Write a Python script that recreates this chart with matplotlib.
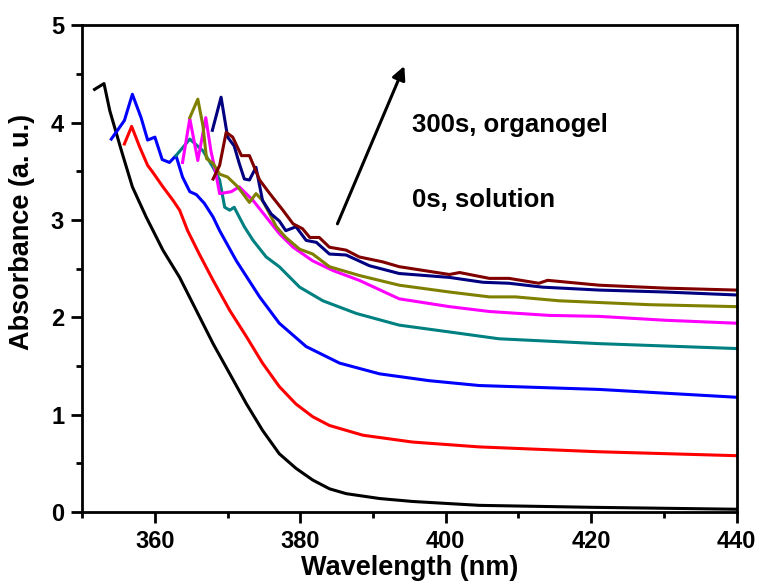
import matplotlib.pyplot as plt

plt.rcParams['font.family'] = ['Liberation Sans', 'DejaVu Sans']
plt.rcParams['font.weight'] = 'bold'

# wavelength (nm) / absorbance, one pair of lists per curve
wl_black = [351.7, 353.0, 353.8, 355.4, 356.9, 358.8, 361.1, 363.4, 365.7, 368.0,
            370.3, 372.6, 374.8, 377.1, 379.4, 381.7, 384.0, 386.3, 390.9, 395.4,
            404.6, 420.0, 440.0]
ab_black = [4.34, 4.40, 4.12, 3.71, 3.34, 3.03, 2.69, 2.41, 2.07, 1.73,
            1.42, 1.11, 0.84, 0.60, 0.45, 0.33, 0.24, 0.19, 0.14, 0.11,
            0.07, 0.05, 0.03]

wl_red = [355.8, 356.8, 357.9, 359.0, 359.7, 361.1, 362.5, 363.4, 364.5, 366.1,
          368.0, 370.3, 372.6, 374.8, 377.1, 379.4, 381.7, 384.0, 388.6, 395.4,
          404.6, 421.1, 439.9]
ab_red = [3.78, 3.96, 3.75, 3.56, 3.49, 3.34, 3.20, 3.10, 2.89, 2.65,
          2.38, 2.07, 1.80, 1.53, 1.29, 1.11, 0.98, 0.89, 0.79, 0.72,
          0.67, 0.62, 0.58]

wl_blue = [354.0, 355.8, 356.9, 358.1, 359.0, 360.0, 361.0, 362.0, 362.9, 363.8,
           364.8, 365.7, 366.8, 368.0, 368.9, 371.2, 374.4, 377.1, 380.8, 385.4,
           390.9, 397.7, 404.6, 421.1, 439.9]
ab_blue = [3.83, 4.02, 4.29, 4.05, 3.82, 3.85, 3.62, 3.59, 3.66, 3.44,
           3.29, 3.26, 3.17, 3.03, 2.89, 2.58, 2.21, 1.94, 1.70, 1.53,
           1.42, 1.35, 1.30, 1.26, 1.18]

wl_teal = [362.9, 363.8, 364.8, 366.6, 368.0, 368.9, 369.6, 370.3, 370.9, 371.6,
           372.3, 373.5, 375.3, 377.1, 379.9, 383.1, 387.7, 393.6, 400.5, 407.3,
           421.1, 439.9]
ab_teal = [3.66, 3.74, 3.83, 3.71, 3.54, 3.41, 3.13, 3.10, 3.13, 3.03,
           2.93, 2.79, 2.62, 2.52, 2.31, 2.17, 2.04, 1.92, 1.85, 1.78,
           1.73, 1.68]

wl_magenta = [363.8, 364.8, 365.9, 367.0, 367.7, 368.4, 368.9, 370.5, 371.6, 373.5,
              375.3, 377.1, 379.0, 381.7, 384.5, 388.1, 393.6, 400.5, 406.0, 414.2,
              421.1, 430.2, 439.9]
ab_magenta = [3.59, 4.04, 3.61, 4.05, 3.71, 3.47, 3.27, 3.29, 3.34, 3.20,
              3.03, 2.86, 2.72, 2.58, 2.48, 2.38, 2.19, 2.11, 2.06, 2.02,
              2.01, 1.97, 1.94]

wl_olive = [364.8, 365.9, 366.6, 367.1, 368.0, 368.9, 370.0, 371.4, 373.0, 373.9,
            374.8, 376.0, 376.7, 378.0, 379.9, 381.7, 384.0, 388.1, 393.6, 400.5,
            406.0, 409.6, 415.6, 428.0, 439.9]
ab_olive = [4.05, 4.24, 3.97, 3.63, 3.58, 3.47, 3.44, 3.34, 3.18, 3.27,
            3.20, 3.03, 2.93, 2.82, 2.70, 2.65, 2.52, 2.43, 2.33, 2.26,
            2.21, 2.21, 2.17, 2.13, 2.11]

wl_navy = [367.9, 369.1, 370.0, 370.9, 371.6, 372.3, 373.0, 373.9, 374.8, 376.0,
           377.1, 378.0, 379.4, 380.8, 382.2, 384.0, 386.3, 389.5, 393.6, 400.5,
           405.1, 408.7, 413.3, 421.1, 430.2, 439.9]
ab_navy = [3.92, 4.26, 3.85, 3.76, 3.58, 3.42, 3.41, 3.54, 3.20, 3.06,
           2.99, 2.89, 2.93, 2.79, 2.77, 2.65, 2.64, 2.53, 2.45, 2.41,
           2.36, 2.35, 2.31, 2.28, 2.26, 2.23]

wl_maroon = [368.0, 368.9, 369.8, 370.7, 371.9, 373.0, 374.4, 375.8, 377.6, 379.0,
             380.3, 381.3, 382.6, 384.0, 386.3, 388.1, 391.3, 393.6, 400.5, 401.9,
             406.0, 408.7, 412.8, 414.0, 421.1, 430.2, 439.9]
ab_maroon = [3.42, 3.56, 3.90, 3.85, 3.66, 3.66, 3.41, 3.27, 3.10, 2.96,
             2.91, 2.82, 2.82, 2.72, 2.69, 2.62, 2.57, 2.52, 2.44, 2.46,
             2.40, 2.40, 2.35, 2.38, 2.33, 2.30, 2.28]

curves = [
    (wl_black, ab_black, 'black'),
    (wl_red, ab_red, '#ff0000'),
    (wl_blue, ab_blue, '#0000ff'),
    (wl_teal, ab_teal, '#008080'),
    (wl_magenta, ab_magenta, '#ff00ff'),
    (wl_olive, ab_olive, '#808000'),
    (wl_navy, ab_navy, '#000080'),
    (wl_maroon, ab_maroon, '#800000'),
]

fig = plt.figure(figsize=(7.61, 5.84), dpi=100)
ax = fig.add_axes([0.108, 0.123, 0.860, 0.834])

for wl, ab, c in curves:
    ax.plot(wl, ab, color=c, lw=2.2)

ax.set_xlim(350, 440)
ax.set_ylim(0, 5)
ax.set_xticks([360, 380, 400, 420, 440])
ax.set_xticks([350, 370, 390, 410, 430], minor=True)
ax.set_yticks([0, 1, 2, 3, 4, 5])
ax.set_yticks([0.5, 1.5, 2.5, 3.5, 4.5], minor=True)
ax.tick_params(which='both', direction='out', width=2, top=False, right=False)
ax.tick_params(which='major', length=8, labelsize=17, pad=5)
ax.tick_params(which='minor', length=4)
for s in ax.spines.values():
    s.set_linewidth(2)

ax.set_xlabel('Wavelength (nm)', fontsize=19.5, fontweight='bold', labelpad=1)
ax.set_ylabel('Absorbance (a. u.)', fontsize=19.5, fontweight='bold')
ax.yaxis.set_label_coords(-0.072, 0.575)

ax.annotate('', xy=(394.3, 4.58), xytext=(385.1, 2.96),
            arrowprops=dict(arrowstyle='-|>', color='black', lw=2.2,
                            mutation_scale=20, shrinkA=0, shrinkB=0))
ax.text(395.3, 3.97, '300s, organogel', fontsize=18.5, fontweight='bold', va='center')
ax.text(395.3, 3.2, '0s, solution', fontsize=18.5, fontweight='bold', va='center')

fig.savefig('out.png', dpi=100)
